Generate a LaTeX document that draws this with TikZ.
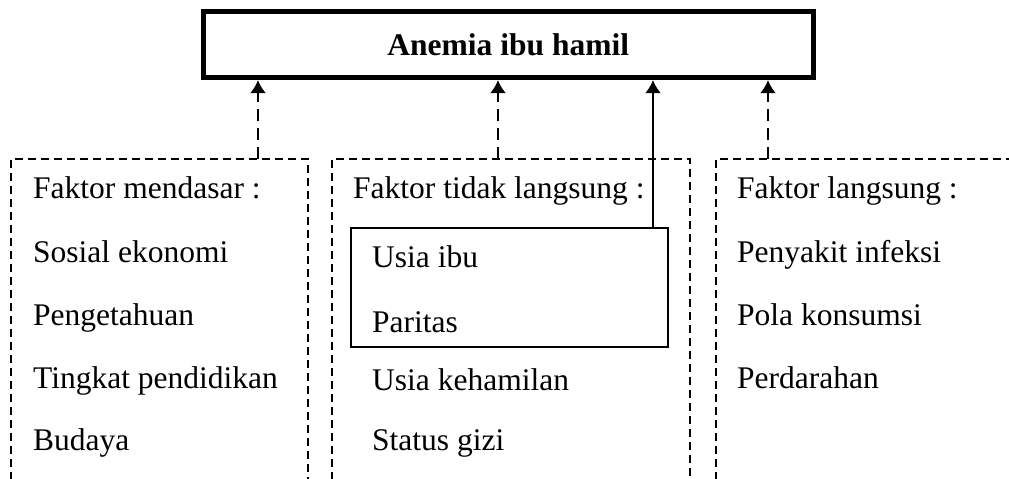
\documentclass[tikz,border=0pt]{standalone}
\usepackage{fontspec}
\setmainfont{Liberation Serif}
\usetikzlibrary{arrows.meta}
\begin{document}
\begin{tikzpicture}[x=1pt,y=-1pt,
  txt/.style={anchor=base west,inner sep=0pt,font=\fontsize{31.5}{36}\selectfont},
  dbox/.style={line width=1.8pt,dash pattern=on 8pt off 5pt},
  darrow/.style={line width=2.6pt,dash pattern=on 12pt off 7pt,-{Latex[length=13pt,width=16pt]}},
  sarrow/.style={line width=2.6pt,-{Latex[length=13pt,width=16pt]}}]
\useasboundingbox (0,0) rectangle (1009,479);
% top box
\node[draw,line width=5pt,minimum width=609.5pt,minimum height=66pt,inner sep=0pt,
  font=\fontsize{31.5}{36}\selectfont\bfseries] (title) at (508.25,44.5) {Anemia ibu hamil};
% dashed boxes (open at bottom)
\draw[dbox] (11,480) -- (11,159) -- (308,159) -- (308,480);
\draw[dbox] (332,480) -- (332,159) -- (690,159) -- (690,480);
\draw[dbox] (716,480) -- (716,159) -- (1012,159);
\coordinate (lt) at (258,159);
\coordinate (mt) at (498,159);
\coordinate (rt) at (768,159);
% inner solid box
\node[draw,line width=1.6pt,minimum width=317pt,minimum height=119pt,inner sep=0pt] (inner) at (509.5,287.5) {};
\coordinate (it) at (653,228);
% arrows
\draw[darrow] (lt) -- (lt |- title.south);
\draw[darrow] (mt) -- (mt |- title.south);
\draw[darrow] (rt) -- (rt |- title.south);
\draw[sarrow] (it) -- (it |- title.south);
% left column
\node[txt] (l1) at (33,198) {Faktor mendasar :};
\node[txt] (l2) at (33,262) {Sosial ekonomi};
\node[txt] (l3) at (33,325) {Pengetahuan};
\node[txt] (l4) at (33,388) {Tingkat pendidikan};
\node[txt] (l5) at (33,450) {Budaya};
% middle column
\node[txt] (m1) at (353,198) {Faktor tidak langsung :};
\node[txt] (m2) at (372,267) {Usia ibu};
\node[txt] (m3) at (372,332) {Paritas};
\node[txt] (m4) at (372,390) {Usia kehamilan};
\node[txt] (m5) at (372,450) {Status gizi};
% right column
\node[txt] (r1) at (737,198) {Faktor langsung :};
\node[txt] (r2) at (737,262) {Penyakit infeksi};
\node[txt] (r3) at (737,325) {Pola konsumsi};
\node[txt] (r4) at (737,388) {Perdarahan};
\end{tikzpicture}
\end{document}
